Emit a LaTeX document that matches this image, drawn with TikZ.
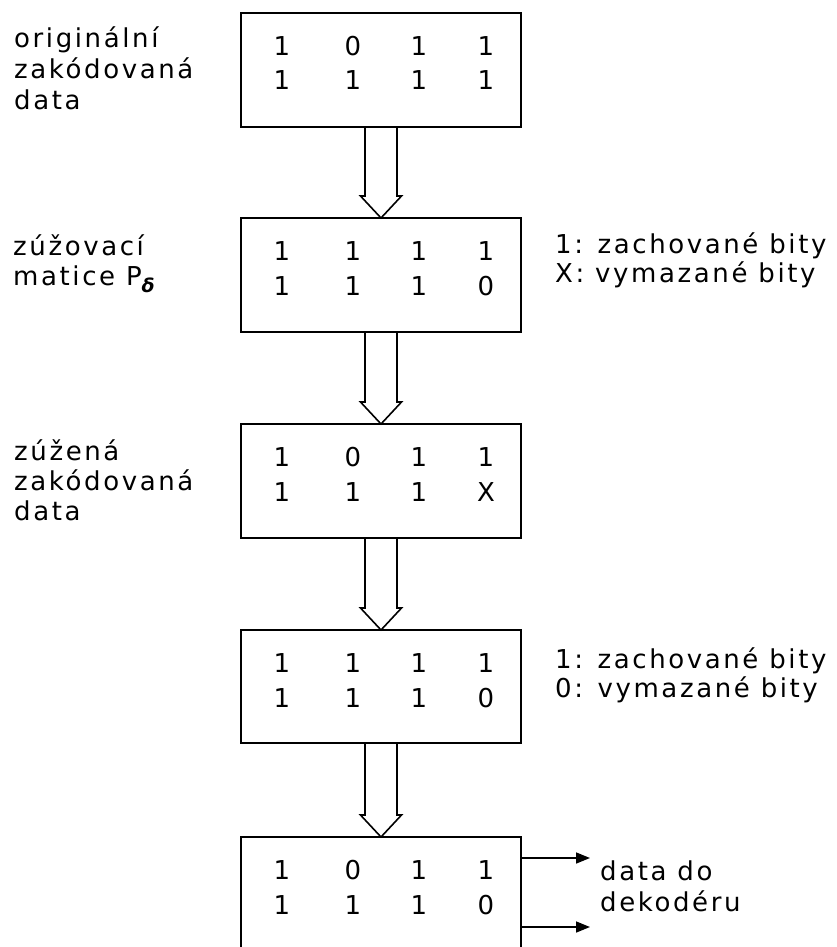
\documentclass[tikz,border=0pt]{standalone}
\usepackage{fontspec}
\setmainfont{DejaVu Sans}[LetterSpace=10]
\usetikzlibrary{calc,arrows.meta}

% hollow block arrow from the bottom of one box to the top of the next
\newcommand\fatarrow[2]{%
  \draw[fat] ($(#1.south)+(-16,0)$) -- ($(#2.north)+(-16,-22)$)
    -- ($(#2.north)+(-20.5,-22)$) -- (#2.north)
    -- ($(#2.north)+(20.5,-22)$) -- ($(#2.north)+(16,-22)$)
    -- ($(#1.south)+(16,0)$);}

% two rows of four bits inside a box
\newcommand\bitrows[3]{%
  \foreach \v [count=\i] in {#2} {%
    \pgfmathsetmacro\dx{{41,112,178,245}[\i-1]}%
    \node[bit] (#1-u\i) at ($(#1.north west)+(\dx,42.5)$) {\v};}
  \foreach \v [count=\i] in {#3} {%
    \pgfmathsetmacro\dx{{41,112,178,245}[\i-1]}%
    \node[bit] (#1-l\i) at ($(#1.north west)+(\dx,77)$) {\v};}}

% subscript delta of the puncturing matrix
\newcommand\subdelta{\raisebox{-7pt}{\fontsize{19}{19}\selectfont\bfseries\itshape δ}}

\begin{document}
\begin{tikzpicture}[x=1pt,y=-1pt,
  box/.style={draw,line width=1.6pt,minimum width=280pt,minimum height=114pt,
              inner sep=0pt,outer sep=0pt},
  bit/.style={inner sep=0pt,anchor=base,font=\fontsize{26}{30}\selectfont},
  lbl/.style={inner sep=0pt,anchor=base west,font=\fontsize{26}{30}\selectfont},
  fat/.style={line width=1.6pt,line join=miter},
  outarrow/.style={line width=1.6pt,-{Triangle[length=14pt,width=11pt]}}]
\useasboundingbox (0,0) rectangle (836,947);
\clip (0,0) rectangle (836,947);

% the five stages
\node[box] (b1) at (381,70) {};
\node[box] (b2) at (381,275) {};
\node[box] (b3) at (381,481) {};
\node[box,minimum height=113pt] (b4) at (381,686.5) {};
\node[box] (b5) at (381,894) {};

\bitrows{b1}{1,0,1,1}{1,1,1,1}
\bitrows{b2}{1,1,1,1}{1,1,1,0}
\bitrows{b3}{1,0,1,1}{1,1,1,X}
\bitrows{b4}{1,1,1,1}{1,1,1,0}
\bitrows{b5}{1,0,1,1}{1,1,1,0}

\fatarrow{b1}{b2}
\fatarrow{b2}{b3}
\fatarrow{b3}{b4}
\fatarrow{b4}{b5}

% outputs to the decoder
\coordinate (o1) at (590,858);
\coordinate (o2) at (590,927);
\draw[outarrow] (b5.east |- o1) -- (o1);
\draw[outarrow] (b5.east |- o2) -- (o2);

% captions on the left
\node[lbl] (l1a) at (14,48) {originální};
\node[lbl] (l1b) at (14,79) {zakódovaná};
\node[lbl] (l1c) at (14,110) {data};
\node[lbl] (l2a) at (13,255) {zúžovací};
\node[lbl] (l2b) at (13,285) {matice P\subdelta};
\node[lbl] (l3a) at (14,460) {zúžená};
\node[lbl] (l3b) at (14,490) {zakódovaná};
\node[lbl] (l3c) at (14,520) {data};

% legends on the right
\node[lbl] (r2a) at (555,253) {1: zachované bity};
\node[lbl] (r2b) at (555,282) {X: vymazané bity};
\node[lbl] (r4a) at (555,668) {1: zachované bity};
\node[lbl] (r4b) at (555,697) {0: vymazané bity};
\node[lbl] (d1) at (600,880) {data do};
\node[lbl] (d2) at (600,911) {dekodéru};
\end{tikzpicture}
\end{document}
